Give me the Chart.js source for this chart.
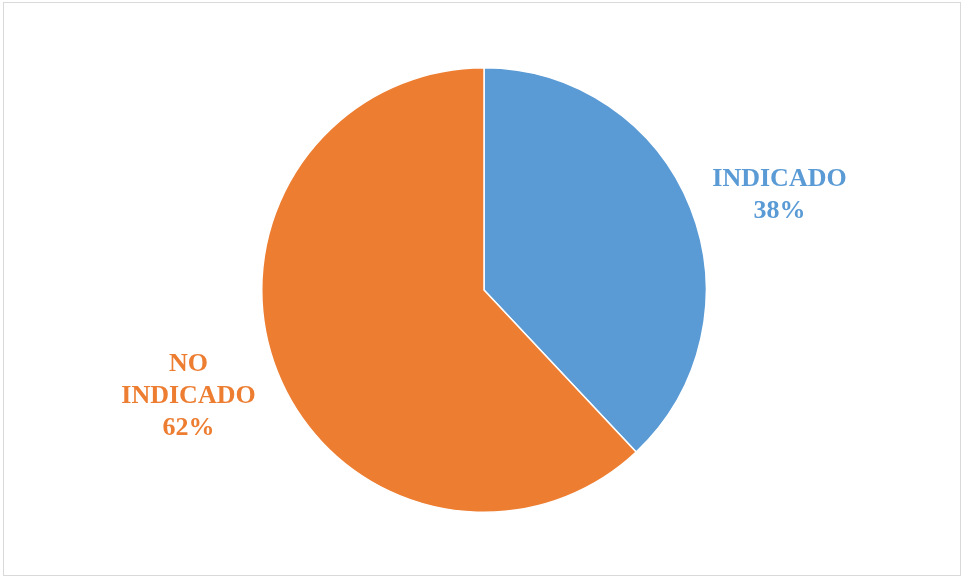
<!DOCTYPE html>
<html>
<head>
<meta charset="utf-8">
<script src="https://cdn.jsdelivr.net/npm/chart.js@4/dist/chart.umd.min.js"></script>
<style>
  html, body { margin: 0; padding: 0; background: #fff; }
  #wrap { width: 963px; height: 578px; position: relative; }
</style>
</head>
<body>
<div id="wrap"><canvas id="myChart"></canvas></div>
<script>
const categories = ["INDICADO", "NO INDICADO"];
const labelLines = [["INDICADO"], ["NO", "INDICADO"]];
const values = [38, 62];
const colors = ["#5B9BD5", "#ED7D31"];

// labels outside the pie, placed along each slice's mid angle
const outsideLabels = {
  id: 'outsideLabels',
  afterDatasetsDraw(chart) {
    const c = chart.ctx;
    const meta = chart.getDatasetMeta(0);
    const total = values.reduce((a, b) => a + b, 0);
    c.save();
    c.font = 'bold 26px "Liberation Serif", "Times New Roman", serif';
    c.textAlign = 'center';
    c.textBaseline = 'middle';
    meta.data.forEach((arc, i) => {
      const mid = (arc.startAngle + arc.endAngle) / 2;
      const dist = arc.outerRadius * 1.43;
      const x = arc.x + Math.cos(mid) * dist;
      const y = arc.y + Math.sin(mid) * dist * 0.86 + 6;
      const lines = labelLines[i].concat([Math.round(values[i] / total * 100) + '%']);
      const lh = 32;
      const y0 = y - (lines.length - 1) * lh / 2;
      c.fillStyle = colors[i];
      lines.forEach((t, j) => c.fillText(t, x, y0 + j * lh));
    });
    c.restore();
  }
};

const frame = {
  id: 'frame',
  beforeDraw(chart) {
    const c = chart.ctx;
    c.save();
    c.strokeStyle = '#d9d9d9';
    c.lineWidth = 1;
    c.strokeRect(3.5, 2.5, 957, 573);
    c.restore();
  }
};

new Chart(document.getElementById('myChart'), {
  type: 'pie',
  data: {
    labels: categories,
    datasets: [{
      data: values,
      backgroundColor: colors,
      borderColor: '#ffffff',
      borderWidth: 1.5
    }]
  },
  options: {
    responsive: true,
    maintainAspectRatio: false,
    animation: false,
    layout: { padding: { top: 67, bottom: 65, left: 5, right: 0 } },
    plugins: {
      legend: { display: false },
      tooltip: { enabled: false }
    }
  },
  plugins: [frame, outsideLabels]
});
</script>
</body>
</html>
